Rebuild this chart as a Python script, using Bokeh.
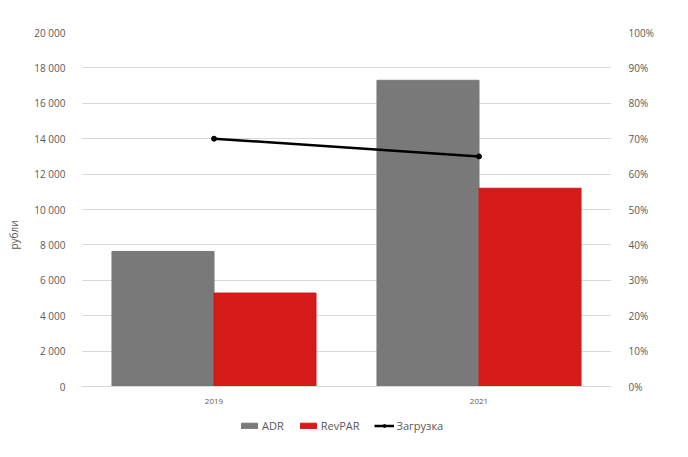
from bokeh.plotting import figure
from bokeh.models import (FactorRange, Range1d, LinearAxis, FixedTicker, Legend,
                          LegendItem, ColumnDataSource)
from bokeh.transform import dodge
from bokeh.embed import file_html
from bokeh.resources import INLINE

years = ["2019", "2021"]
adr = [7630, 17300]
revpar = [5280, 11200]
load_pct = [70, 65]

left_ticks = [0, 2000, 4000, 6000, 8000, 10000, 12000, 14000, 16000, 18000, 20000]
left_labels = ["0", "2 000", "4 000", "6 000", "8 000", "10 000", "12 000",
               "14 000", "16 000", "18 000", "20 000"]
right_ticks = [0, 10, 20, 30, 40, 50, 60, 70, 80, 90, 100]
right_labels = ["0%", "10%", "20%", "30%", "40%", "50%", "60%", "70%", "80%", "90%", "100%"]

FONT = "Open Sans"
TXT = "#595959"
GRID = "#d9d9d9"

# layout (pixels): figure, frame top, data baseline, frame bottom
W, H = 688, 457
TOP, BASE, BOTTOM = 32, 386, 437
LEFT, RIGHT = 81, 611
frac_below = (BOTTOM - BASE) / (BASE - TOP)
y_lo = -frac_below * max(left_ticks)
p_lo = -frac_below * max(right_ticks)

src = ColumnDataSource(dict(year=years, adr=adr, revpar=revpar, load=load_pct))

p = figure(width=W, height=H, x_range=FactorRange(*years),
           y_range=Range1d(y_lo, max(left_ticks)),
           output_backend="svg", toolbar_location=None,
           min_border_left=LEFT, min_border_right=W - RIGHT, min_border_top=TOP,
           min_border_bottom=H - BOTTOM)
p.extra_y_ranges = {"pct": Range1d(p_lo, max(right_ticks))}
p.outline_line_color = None
p.background_fill_color = "white"
p.border_fill_color = "white"

# left axis
ya = p.yaxis[0]
ya.ticker = FixedTicker(ticks=left_ticks)
ya.major_label_overrides = {t: l for t, l in zip(left_ticks, left_labels)}
ya.axis_line_color = None
ya.major_tick_line_color = None
ya.minor_tick_line_color = None
ya.major_label_text_font = FONT
ya.major_label_text_font_size = "10px"
ya.major_label_text_color = TXT
ya.major_label_standoff = 10
ya.axis_label = "рубли"
ya.axis_label_text_font = FONT
ya.axis_label_text_font_size = "10px"
ya.axis_label_text_font_style = "normal"
ya.axis_label_text_color = TXT
ya.axis_label_standoff = 10

p.ygrid.ticker = FixedTicker(ticks=left_ticks)
p.ygrid.grid_line_color = GRID
p.ygrid.grid_line_width = 1
p.xgrid.grid_line_color = None

# right axis
ra = LinearAxis(y_range_name="pct", ticker=FixedTicker(ticks=right_ticks))
ra.major_label_overrides = {t: l for t, l in zip(right_ticks, right_labels)}
ra.axis_line_color = None
ra.major_tick_line_color = None
ra.minor_tick_line_color = None
ra.major_label_text_font = FONT
ra.major_label_text_font_size = "10px"
ra.major_label_text_color = TXT
ra.major_label_standoff = 11
p.add_layout(ra, "right")

# x axis, drawn at the zero baseline
xa = p.xaxis[0]
xa.fixed_location = 0
xa.axis_line_color = GRID
xa.major_tick_line_color = None
xa.minor_tick_line_color = None
xa.major_label_text_font = FONT
xa.major_label_text_font_size = "8px"
xa.major_label_text_color = TXT
xa.major_label_standoff = 6

r_adr = p.vbar(x=dodge("year", -0.1925, range=p.x_range), top="adr", width=0.385,
               source=src, fill_color="#797979", line_color="#797979")
r_rev = p.vbar(x=dodge("year", 0.1925, range=p.x_range), top="revpar", width=0.385,
               source=src, fill_color="#d51a1a", line_color="#d51a1a")
r_line = p.line(x="year", y="load", y_range_name="pct", source=src,
                line_color="black", line_width=2.5)
r_pts = p.scatter(x="year", y="load", y_range_name="pct", source=src,
                  size=5, fill_color="black", line_color="black")

legend = Legend(items=[LegendItem(label="ADR", renderers=[r_adr]),
                       LegendItem(label="RevPAR", renderers=[r_rev]),
                       LegendItem(label="Загрузка", renderers=[r_line, r_pts])],
                orientation="horizontal", location=(158, 4),
                border_line_color=None, background_fill_alpha=0,
                label_text_font=FONT, label_text_font_size="11px",
                label_text_color=TXT, glyph_width=20, glyph_height=7,
                label_standoff=3, spacing=14, padding=2, margin=0)
p.add_layout(legend, "center")

open("out.html", "w").write(file_html(p, INLINE))
